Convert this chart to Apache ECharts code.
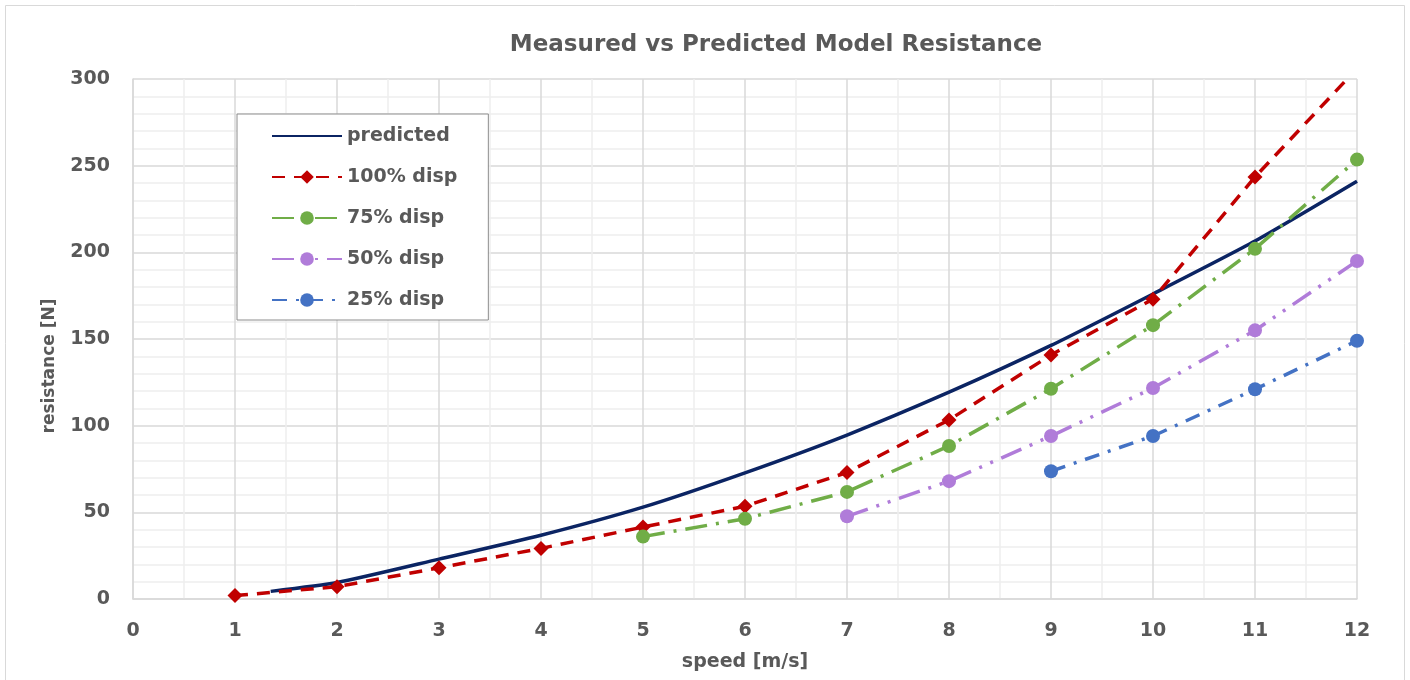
<!DOCTYPE html>
<html>
<head>
<meta charset="utf-8">
<script src="https://cdn.jsdelivr.net/npm/echarts@6/dist/echarts.min.js"></script>
<style>
  html, body { margin: 0; padding: 0; background: #fff; }
  #chart { width: 1410px; height: 680px; }
</style>
</head>
<body>
<div id="chart"></div>
<script>
// ---- data ----
const predictedX = [1.35, 2, 3, 4, 5, 6, 7, 8, 9, 10, 11, 12];
const predictedY = [4.4, 9.5, 23, 36.8, 53, 72.8, 94.6, 119.3, 146.3, 176, 206.5, 241];

const disp100X = [1, 2, 3, 4, 5, 6, 7, 8, 9, 10, 11, 12];
const disp100Y = [2, 7.1, 18, 29.2, 41.5, 53.5, 73, 103.3, 140.8, 173, 243.5, 306];

const disp75X = [5, 6, 7, 8, 9, 10, 11, 12];
const disp75Y = [36, 46.3, 61.8, 88.3, 121.3, 158, 202, 253.5];

const disp50X = [7, 8, 9, 10, 11, 12];
const disp50Y = [47.7, 68, 94, 121.7, 155, 195];

const disp25X = [9, 10, 11, 12];
const disp25Y = [73.7, 94, 121, 149];

const seriesNames = ['predicted', '100% disp', '75% disp', '50% disp', '25% disp'];

function pairs(xs, ys) { return xs.map((x, i) => [x, ys[i]]); }

const FONT = '"DejaVu Sans"';
const TXT = '#595959';

const chart = echarts.init(document.getElementById('chart'), null, { renderer: 'canvas' });

chart.setOption({
  animation: false,
  backgroundColor: '#ffffff',
  textStyle: { fontFamily: FONT },
  graphic: [{
    type: 'rect',
    shape: { x: 5.5, y: 5.5, width: 1399, height: 690 },
    style: { fill: 'none', stroke: '#d9d9d9', lineWidth: 1 },
    silent: true
  }],
  title: {
    text: 'Measured vs Predicted Model Resistance',
    left: 771,
    top: 29,
    textAlign: 'center',
    textStyle: { fontFamily: FONT, fontSize: 23, fontWeight: 'bold', color: TXT }
  },
  legend: {
    orient: 'vertical',
    left: 237,
    top: 114,
    padding: [10, 31, 8, 34],
    backgroundColor: '#ffffff',
    borderColor: '#8c8c8c',
    borderWidth: 1,
    borderRadius: 0,
    itemWidth: 70,
    itemHeight: 17,
    itemGap: 17,
    data: seriesNames,
    textStyle: { fontFamily: FONT, fontSize: 19, fontWeight: 'bold', color: TXT, lineHeight: 24 }
  },
  grid: { left: 133, right: 53, top: 79, bottom: 81, containLabel: false },
  xAxis: {
    type: 'value',
    min: 0, max: 12, interval: 1,
    name: 'speed [m/s]',
    nameLocation: 'middle',
    nameGap: 54,
    nameTextStyle: { fontFamily: FONT, fontSize: 19, fontWeight: 'bold', color: TXT },
    axisLine: { show: true, lineStyle: { color: '#d9d9d9', width: 1.5 } },
    axisTick: { show: false },
    axisLabel: { margin: 23, fontFamily: FONT, fontSize: 19, fontWeight: 'bold', color: TXT },
    splitLine: { show: true, lineStyle: { color: '#d9d9d9', width: 1.5 } },
    minorTick: { show: false, splitNumber: 2 },
    minorSplitLine: { show: true, lineStyle: { color: '#eeeeee', width: 1.5 } }
  },
  yAxis: {
    type: 'value',
    min: 0, max: 300, interval: 50,
    name: 'resistance [N]',
    nameLocation: 'middle',
    nameGap: 75,
    nameTextStyle: { fontFamily: FONT, fontSize: 17, fontWeight: 'bold', color: TXT, padding: [0, 54, 0, 0] },
    axisLine: { show: true, lineStyle: { color: '#d9d9d9', width: 1.5 } },
    axisTick: { show: false },
    axisLabel: { margin: 23, fontFamily: FONT, fontSize: 19, fontWeight: 'bold', color: TXT },
    splitLine: { show: true, lineStyle: { color: '#d9d9d9', width: 1.5 } },
    minorTick: { show: false, splitNumber: 5 },
    minorSplitLine: { show: true, lineStyle: { color: '#eeeeee', width: 1.5 } }
  },
  series: [
    {
      name: seriesNames[0], type: 'line', data: pairs(predictedX, predictedY),
      symbol: 'none', smooth: 0.2, clip: true,
      itemStyle: { color: 'rgba(0,0,0,0)' },
      lineStyle: { color: '#0b2463', width: 3.5, type: 'solid' },
      z: 2
    },
    {
      name: seriesNames[1], type: 'line', data: pairs(disp100X, disp100Y),
      symbol: 'diamond', symbolSize: [15, 15], clip: true,
      itemStyle: { color: '#c00000' },
      lineStyle: { color: '#c00000', width: 3.5, type: [13, 9] },
      z: 3
    },
    {
      name: seriesNames[2], type: 'line', data: pairs(disp75X, disp75Y),
      symbol: 'circle', symbolSize: 14, clip: true,
      itemStyle: { color: '#70ad47' },
      lineStyle: { color: '#70ad47', width: 3.5, type: [22, 9, 3, 9] },
      z: 3
    },
    {
      name: seriesNames[3], type: 'line', data: pairs(disp50X, disp50Y),
      symbol: 'circle', symbolSize: 14, clip: true,
      itemStyle: { color: '#b07cd9' },
      lineStyle: { color: '#b07cd9', width: 3.5, type: [22, 9, 3, 9, 3, 9] },
      z: 3
    },
    {
      name: seriesNames[4], type: 'line', data: pairs(disp25X, disp25Y),
      symbol: 'circle', symbolSize: 14, clip: true,
      itemStyle: { color: '#4472c4' },
      lineStyle: { color: '#4472c4', width: 3.5, type: [15, 9, 3, 9] },
      z: 3
    }
  ]
});
</script>
</body>
</html>
